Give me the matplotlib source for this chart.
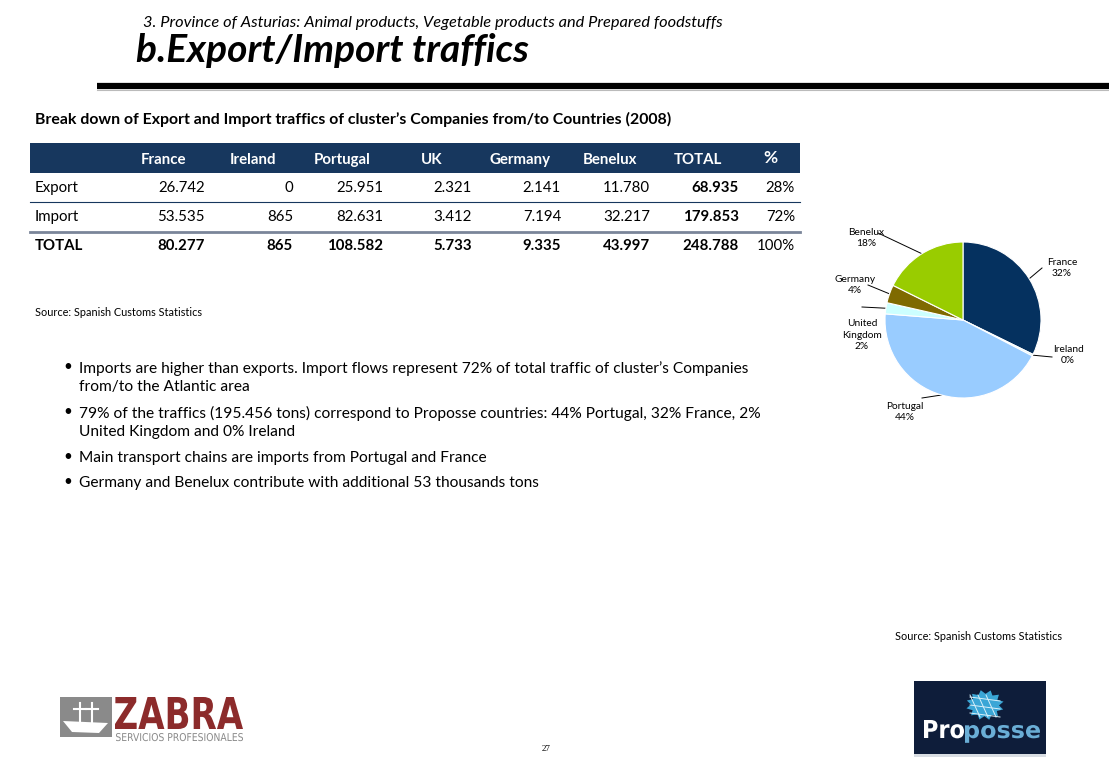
import matplotlib
matplotlib.use("Agg")
import matplotlib.pyplot as plt
from matplotlib.patches import Rectangle, Polygon, PathPatch
from matplotlib.textpath import TextPath
from matplotlib.font_manager import FontProperties
from matplotlib.transforms import Affine2D
import numpy as np

plt.rcParams['font.family'] = ['Lato', 'DejaVu Sans']

# data
countries = ["France", "Ireland", "Portugal", "UK", "Germany", "Benelux"]
export_vals = ["26.742", "0", "25.951", "2.321", "2.141", "11.780", "68.935", "28%"]
import_vals = ["53.535", "865", "82.631", "3.412", "7.194", "32.217", "179.853", "72%"]
total_vals = ["80.277", "865", "108.582", "5.733", "9.335", "43.997", "248.788", "100%"]
header = countries + ["TOTAL", "%"]

pie_labels = ["France", "Ireland", "Portugal", "United\nKingdom", "Germany", "Benelux"]
pie_values = [80277, 865, 108582, 5733, 9335, 43997]
pie_colors = ["#05315f", "#c6f0f5", "#99ccff", "#ccffff", "#7f6a00", "#99cc00"]

bullets = [
    "Imports are higher than exports. Import flows represent 72% of total traffic of cluster\u2019s Companies\nfrom/to the Atlantic area",
    "79% of the traffics (195.456 tons) correspond to Proposse countries: 44% Portugal, 32% France, 2%\nUnited Kingdom and 0% Ireland",
    "Main transport chains are imports from Portugal and France",
    "Germany and Benelux contribute with additional 53 thousands tons",
]

W, H = 1109, 768
fig = plt.figure(figsize=(W / 100, H / 100), dpi=100)
ax = fig.add_axes([0, 0, 1, 1])
ax.set_xlim(0, W)
ax.set_ylim(H, 0)
ax.axis("off")


def fitted_text(s, x0, x1, top, base, color, weight="bold"):
    # text squeezed into a box, for the logo lettering
    tp = TextPath((0, 0), s, size=1, prop=FontProperties(family="DejaVu Sans", weight=weight))
    ext = tp.get_extents()
    sx = (x1 - x0) / ext.width
    sy = (base - top) / ext.y1
    tr = Affine2D().translate(-ext.x0, 0).scale(sx, -sy).translate(x0, base)
    ax.add_patch(PathPatch(tr.transform_path(tp), color=color, lw=0))


# header
ax.text(143, 23, "3. Province of Asturias: Animal products, Vegetable products and Prepared foodstuffs",
        fontsize=11.8, style="italic", va="center", ha="left")
ax.text(136, 51, "b.Export/Import traffics", fontsize=28, style="italic", weight="bold",
        va="center", ha="left")
ax.plot([97, W], [86, 86], color="black", lw=4.5, solid_capstyle="butt")
ax.plot([97, W], [90, 90], color="#bbbbbb", lw=0.8)

ax.text(35, 119, "Break down of Export and Import traffics of cluster\u2019s Companies from/to Countries (2008)",
        fontsize=11.4, weight="bold", va="center", ha="left")

# table
navy = "#17375e"
ax.add_patch(Rectangle((30, 143), 770, 30, color=navy, lw=0))
hdr_x = [163, 253, 342, 432, 520, 610, 698, 770]
for x, h in zip(hdr_x, header):
    ax.text(x, 160 if h != "%" else 158, h, color="white", weight="bold",
            fontsize=10.8 if h != "%" else 12.5, ha="center", va="center")

col_right = [205, 293, 383, 472, 561, 650, 739, 795]
rows = [("Export", export_vals, 188), ("Import", import_vals, 217), ("TOTAL", total_vals, 246)]
for name, vals, y in rows:
    bold_row = name == "TOTAL"
    ax.text(35, y, name, fontsize=10.8, weight="bold" if bold_row else "normal",
            ha="left", va="center")
    for i, (x, v) in enumerate(zip(col_right, vals)):
        b = (bold_row or i == 6) and i != 7
        ax.text(x, y, v, fontsize=10.8, weight="bold" if b else "normal", ha="right", va="center")
ax.plot([30, 800], [202, 202], color=navy, lw=0.8)
ax.plot([30, 800], [231.5, 231.5], color="#7a8599", lw=2)

ax.text(35, 312, "Source: Spanish Customs Statistics", fontsize=7.8, va="center", ha="left")

# bullets
bullet_y = [368, 413, 458, 483]
for y, t in zip(bullet_y, bullets):
    ax.text(63, y - 1, "\u2022", fontsize=11, va="center", ha="left")
    ax.text(79, y - 7, t, fontsize=11.2, va="top", ha="left", linespacing=1.33)

ax.text(1062, 636, "Source: Spanish Customs Statistics", fontsize=7.8, va="center", ha="right")
ax.text(546, 749, "27", fontsize=6.5, va="center", ha="center", family="Liberation Serif")

# ZABRA logo
ax.add_patch(Rectangle((60, 697), 52, 40, color="#8a8a8a", lw=0))
ax.add_patch(Polygon([[63, 721], [108, 723], [99, 733], [72, 732]], color="white", lw=0))
for cx_ in (80, 92):
    ax.plot([cx_, cx_], [703, 725], color="white", lw=1.5)
    ax.plot([cx_ - 6, cx_ + 6], [709, 709], color="white", lw=1.5)
fitted_text("ZABRA", 115, 243, 697, 729, "#8c2b2b")
fitted_text("SERVICIOS PROFESIONALES", 116, 243, 733, 741, "#8a8a8a", weight="normal")

# Proposse logo
ax.add_patch(Rectangle((914, 681), 132, 73, color="#0e1d3a", lw=0))
ax.add_patch(Rectangle((914, 754), 132, 3, color="#d8dde3", lw=0))
ang = np.linspace(0, 2 * np.pi, 25)
rr = np.where(np.arange(25) % 2 == 0, 19, 14)
star = np.column_stack([985 + rr * np.cos(ang + 0.3), 705 + rr * np.sin(ang + 0.3) * 0.8])
ax.add_patch(Polygon(star, color="#3aa6d6", lw=0))
for k in range(3):
    ax.plot([970 + 8 * k, 980 + 8 * k], [695, 717], color="#d8f0fa", lw=0.7)
    ax.plot([970, 1000], [697 + 8 * k, 701 + 8 * k], color="#d8f0fa", lw=0.7)
fitted_text("Pro", 924, 964, 720, 738, "white")
fitted_text("posse", 965, 1040, 725, 738, "#6aaed6")

# pie
cx, cy, r = 963, 320, 78
pax = fig.add_axes([(cx - r) / W, (H - cy - r) / H, 2 * r / W, 2 * r / H])
wedges, _ = pax.pie(pie_values, colors=pie_colors, startangle=90, counterclock=False,
                    wedgeprops=dict(edgecolor="white", linewidth=0.8))
pax.set_xlim(-1, 1)
pax.set_ylim(-1, 1)
pax.set_aspect("equal")
pax.axis("off")

total = sum(pie_values)
label_pos = [(1062, 268), (1068, 355), (905, 412), (862, 335), (855, 285), (866, 238)]
anchor_pos = [(1042, 268), (1052, 357), (922, 398), (862, 307), (868, 285), (878, 233)]
for w, lab, v, (tx, ty), (ax_, ay_) in zip(wedges, pie_labels, pie_values, label_pos, anchor_pos):
    mid = np.deg2rad((w.theta1 + w.theta2) / 2)
    ex = cx + r * np.cos(mid)
    ey = cy - r * np.sin(mid)
    pct = f"{round(100 * v / total):.0f}%"
    ax.text(tx, ty, f"{lab}\n{pct}", fontsize=7.3, ha="center", va="center", linespacing=1.35)
    ax.plot([ax_, ex], [ay_, ey], color="black", lw=0.7)

fig.savefig("out.png", dpi=100)
